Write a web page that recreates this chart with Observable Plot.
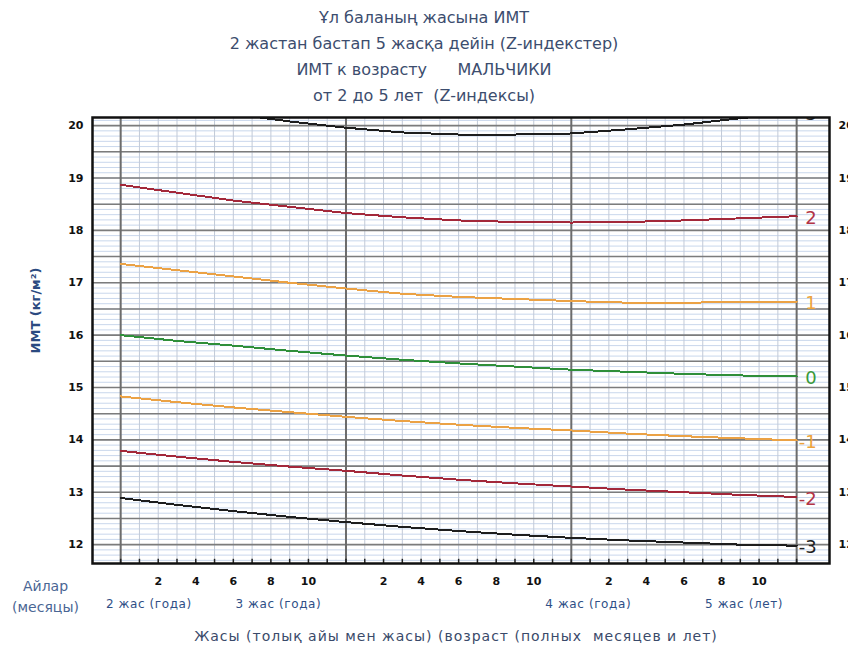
<!DOCTYPE html>
<html>
<head>
<meta charset="utf-8">
<script src="https://cdn.jsdelivr.net/npm/d3@7"></script>
<script src="https://cdn.jsdelivr.net/npm/@observablehq/plot@0.6"></script>
<style>
  html, body { margin: 0; padding: 0; background: #fff; overflow: hidden; }
  #title {
    width: 848px; height: 108px; box-sizing: border-box; padding-top: 5px;
    text-align: center; font-family: "DejaVu Sans", sans-serif; font-size: 16px;
    line-height: 26px; color: #3c4d6e; white-space: pre;
  }
  #chart svg { display: block; }
  .wide-text text { letter-spacing: 0.6px; }
  .axis-title text { letter-spacing: 1px; }
</style>
</head>
<body>
<div id="title">Ұл баланың жасына ИМТ
2 жастан бастап 5 жасқа дейін (Z-индекстер)
ИМТ к возрасту      МАЛЬЧИКИ
от 2 до 5 лет  (Z-индексы)</div>
<div id="chart"></div>
<script>
// Age in completed months
const months = [24, 27, 30, 33, 36, 39, 42, 45, 48, 51, 54, 57, 60];

// BMI (kg/m²) for each z-score curve
const zMinus3 = [12.89, 12.76, 12.64, 12.53, 12.43, 12.34, 12.26, 12.19, 12.13, 12.08, 12.04, 12.00, 11.98];
const zMinus2 = [13.79, 13.68, 13.58, 13.49, 13.41, 13.32, 13.24, 13.17, 13.11, 13.05, 13.00, 12.95, 12.91];
const zMinus1 = [14.83, 14.72, 14.62, 14.53, 14.44, 14.36, 14.29, 14.23, 14.18, 14.12, 14.07, 14.03, 13.99];
const zMedian = [16.00, 15.89, 15.80, 15.70, 15.61, 15.53, 15.46, 15.40, 15.34, 15.30, 15.26, 15.23, 15.21];
const zPlus1  = [17.36, 17.24, 17.12, 17.00, 16.89, 16.79, 16.73, 16.69, 16.65, 16.62, 16.62, 16.63, 16.64];
const zPlus2  = [18.87, 18.72, 18.57, 18.45, 18.33, 18.25, 18.19, 18.16, 18.15, 18.16, 18.19, 18.23, 18.27];
const zPlus3  = [20.55, 20.38, 20.22, 20.08, 19.96, 19.87, 19.83, 19.83, 19.85, 19.93, 20.02, 20.14, 20.25];

const curveNames = ["-3", "-2", "-1", "0", "1", "2", "3"];
const curveValues = [zMinus3, zMinus2, zMinus1, zMedian, zPlus1, zPlus2, zPlus3];

// Axis labels
const yTicks = [12, 13, 14, 15, 16, 17, 18, 19, 20];
const monthTicks = [26, 28, 30, 32, 34, 38, 40, 42, 44, 46, 50, 52, 54, 56, 58];
const yearNames = ["2 жас (года)", "3 жас (года)", "4 жас (года)", "5 жас (лет)"];
const yearNameMonths = [25.5, 32.4, 48.9, 57.2];

// Colours of the curves and their end labels
const curveColors = {"-3": "#1e1e1e", "-2": "#a3283a", "-1": "#eba245", "0": "#2f8f3a", "1": "#eba245", "2": "#a3283a", "3": "#1e1e1e"};
const labelColors = {"-3": "#222222", "-2": "#b23446", "-1": "#eda33c", "0": "#3a9a3a", "1": "#eda33c", "2": "#b23446", "3": "#222222"};

const xDomain = [22.5, 61.75];
const yDomain = [11.64, 20.155];

const allMonths = d3.range(24, 61);
const yearLines = [24, 36, 48, 60];
const minorY = d3.range(117, 202).map(i => i / 10);
const majorY = d3.range(24, 41).map(i => i / 2);

const curveMarks = [];
curveNames.forEach((name, i) => {
  const rows = months.map((m, j) => ({month: m, bmi: curveValues[i][j]}));
  curveMarks.push(Plot.line(rows, {
    x: "month", y: "bmi", stroke: curveColors[name], strokeWidth: 2, clip: true,
    shapeRendering: "crispEdges"
  }));
  curveMarks.push(Plot.text([rows[rows.length - 1]], {
    x: "month", y: "bmi", text: () => name, dx: 20, dy: 2, textAnchor: "end",
    fill: labelColors[name], fontSize: 18, clip: true
  }));
});

const chart = Plot.plot({
  width: 848,
  height: 539,
  marginTop: 9,
  marginBottom: 84,
  marginLeft: 92,
  marginRight: 19,
  style: {fontFamily: "DejaVu Sans, sans-serif", background: "white", color: "#111"},
  x: {domain: xDomain},
  y: {domain: yDomain},
  marks: [
    // grid
    Plot.ruleY(minorY, {stroke: "#c9d7ec", strokeWidth: 1}),
    Plot.ruleX(allMonths, {stroke: "#c2cad8", strokeWidth: 1}),
    Plot.ruleY(majorY, {stroke: "#7c7c7c", strokeWidth: 1.6}),
    Plot.ruleX(yearLines, {stroke: "#6c6c6c", strokeWidth: 2}),
    // month ticks along the bottom edge
    Plot.ruleX(allMonths, {y1: yDomain[0], y2: yDomain[0] + 0.08, stroke: "#222", strokeWidth: 1.5}),
    ...curveMarks,
    Plot.frame({stroke: "#111", strokeWidth: 2.5}),
    // axes
    Plot.axisY(yTicks, {anchor: "left", tickSize: 0, tickPadding: 9, fontSize: 11, fontWeight: "bold",
      tickFormat: d => String(d), label: null}),
    Plot.axisY(yTicks, {anchor: "right", tickSize: 0, tickPadding: 9, fontSize: 11, fontWeight: "bold",
      tickFormat: d => String(d), label: null}),
    Plot.axisX(monthTicks, {anchor: "bottom", tickSize: 0, tickPadding: 14, fontSize: 11, fontWeight: "bold",
      tickFormat: m => String(m % 12), label: null}),
    Plot.text(yearNames, {x: (d, i) => yearNameMonths[i], y: yDomain[0], text: d => d, dy: 41,
      fill: "#2f4f86", fontSize: 12, textAnchor: "middle", className: "wide-text"}),
    Plot.text(["Жасы (толық айы мен жасы) (возраст (полных  месяцев и лет)"], {frameAnchor: "bottom", dx: -5, dy: 77,
      fill: "#3a4a6a", fontSize: 14, text: d => d, className: "axis-title"}),
    Plot.text(["Айлар\n(месяцы)"], {frameAnchor: "bottom-left", dx: -47, dy: 48, lineHeight: 1.45,
      fill: "#4a6694", fontSize: 14, textAnchor: "middle", text: d => d}),
    Plot.text(["ИМТ (кг/м²)"], {frameAnchor: "left", dx: -57, dy: -30, rotate: -90,
      fill: "#2b4a80", fontSize: 13, fontWeight: "bold", textAnchor: "middle", text: d => d})
  ]
});

document.getElementById("chart").appendChild(chart);
</script>
</body>
</html>
